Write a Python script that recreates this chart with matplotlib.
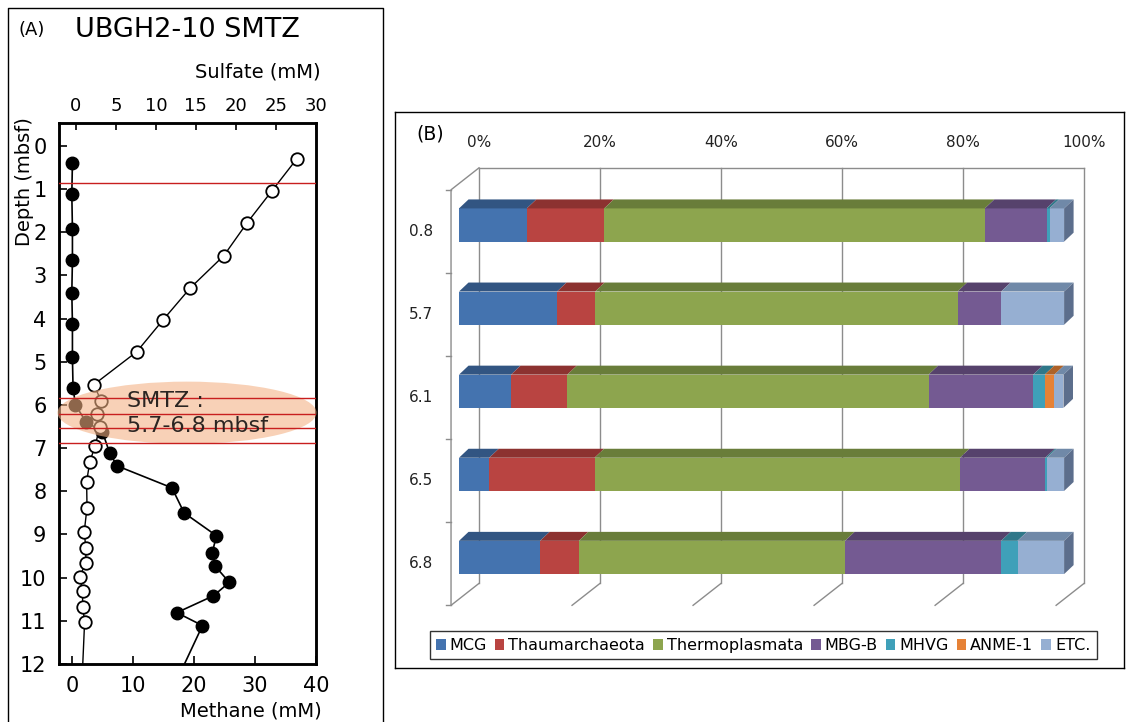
import numpy as np
import matplotlib.pyplot as plt
import matplotlib.transforms as mtransforms
from matplotlib.patches import Ellipse, Polygon, Patch
from matplotlib.lines import Line2D

# ---- panel A data ----
depth_ch4 = [0.39, 1.11, 1.93, 2.64, 3.40, 4.12, 4.90, 5.60, 6.00, 6.39, 6.62, 7.11,
             7.41, 7.92, 8.50, 9.03, 9.42, 9.72, 10.11, 10.42, 10.81, 11.11, 12.5]
methane = [0.1, 0.0, 0.1, 0.1, 0.0, 0.1, 0.1, 0.2, 0.6, 2.3, 5.0, 6.2,
           7.4, 16.4, 18.4, 23.7, 23.0, 23.4, 25.8, 23.2, 17.2, 21.4, 16.8]

depth_so4 = [0.30, 1.04, 1.78, 2.54, 3.29, 4.03, 4.77, 5.53, 5.92, 6.20, 6.50, 6.96,
             7.31, 7.78, 8.38, 8.94, 9.31, 9.65, 9.98, 10.32, 10.67, 11.02, 12.5]
sulfate = [27.6, 24.5, 21.4, 18.5, 14.3, 10.9, 7.6, 2.25, 3.2, 2.6, 3.0, 2.4,
           1.75, 1.35, 1.4, 1.05, 1.25, 1.25, 0.5, 0.85, 0.85, 1.1, 0.75]

sample_lines = [0.86, 5.83, 6.22, 6.53, 6.88]

# ---- panel B data (% of archaeal community) ----
samples = ['0.8', '5.7', '6.1', '6.5', '6.8']
groups = ['MCG', 'Thaumarchaeota', 'Thermoplasmata', 'MBG-B', 'MHVG', 'ANME-1', 'ETC.']
mcg = [11.2, 16.2, 8.6, 5.0, 13.4]
thaum = [12.8, 6.3, 9.3, 17.4, 6.4]
thermo = [62.9, 59.9, 59.7, 60.4, 44.0]
mbgb = [10.2, 7.2, 17.3, 14.1, 25.8]
mhvg = [0.5, 0.0, 1.9, 0.3, 2.7]
anme1 = [0.0, 0.0, 1.6, 0.0, 0.0]
etc = [2.4, 10.4, 1.5, 2.8, 7.7]
pct_ticks = [0, 20, 40, 60, 80, 100]

front_colors = ['#4473AF', '#B94441', '#8DA54E', '#745A92', '#3FA0B9', '#E68237', '#96AFD2']
top_colors = ['#325582', '#8C3230', '#697D3A', '#56426C', '#2F7789', '#AD6229', '#7089A8']
side_color = '#5C6E8C'

W, H = 1126, 722
fig = plt.figure(figsize=(W / 100, H / 100), dpi=100)


def fx(px):
    return px / W


def fy(py):
    return 1 - py / H


# ================= panel A =================
fig.add_artist(Line2D([fx(8), fx(8), fx(383), fx(383)], [-0.05, fy(8), fy(8), -0.05],
                      transform=fig.transFigure, color='black', lw=1))
fig.text(fx(32), fy(30), '(A)', fontsize=13, ha='center', va='center')
fig.text(fx(187), fy(30), 'UBGH2-10 SMTZ', fontsize=19.5, ha='center', va='center')

ax = fig.add_axes([fx(59), fy(664), (316 - 59) / W, (664 - 123) / H])
ax.plot(methane, depth_ch4, '-o', color='black', mfc='black', mec='black',
        ms=9, lw=1.2, zorder=3)
ax.set_xlim(-2.1, 40)
ax.set_ylim(12, -0.53)
ax.set_xticks([0, 10, 20, 30, 40])
ax.set_yticks(range(13))
ax.tick_params(axis='x', direction='in', length=6, width=1.2, labelsize=15, pad=9, top=False)
ax.tick_params(axis='y', direction='in', length=6, width=1.2, labelsize=15, pad=9, right=False)
for s in ax.spines.values():
    s.set_linewidth(1.8)

ax2 = ax.twiny()
ax2.plot(sulfate, depth_so4, '-o', color='black', mfc='white', mec='black',
         mew=1.3, ms=9, lw=1, zorder=3)
ax2.set_xlim(-2.1, 30)
ax2.set_xticks(range(0, 31, 5))
ax2.tick_params(axis='x', direction='in', length=5, width=1.2, labelsize=13, pad=6)
for s in ax2.spines.values():
    s.set_linewidth(1.8)

trans = mtransforms.blended_transform_factory(ax2.transAxes, ax2.transData)
ax2.add_patch(Ellipse((0.498, 6.18), 1.008, 1.44, transform=trans, fc='#F4B183',
                      alpha=0.58, ec='none', zorder=4, clip_on=False))
for d in sample_lines:
    ax2.axhline(d, color='#C81E1E', lw=1, zorder=5)
ax2.text(0.265, 6.2, 'SMTZ :\n5.7-6.8 mbsf', transform=trans, fontsize=16,
         ha='left', va='center', linespacing=1.35, color='#2b2522', zorder=6)

fig.text(fx(258), fy(72), 'Sulfate (mM)', fontsize=14, ha='center', va='center')
fig.text(fx(251), fy(711), 'Methane (mM)', fontsize=14, ha='center', va='center')
fig.text(fx(25), fy(182), 'Depth (mbsf)', fontsize=14, ha='center', va='center', rotation=90)

# ================= panel B (3-D look stacked bars) =================
axB = fig.add_axes([fx(395), fy(668), (1124 - 395) / W, (668 - 112) / H])
axB.set_xlim(-10.58, 109.9)
axB.set_ylim(5.33, -1.36)
axB.set_xticks([])
axB.set_yticks([])
for s in axB.spines.values():
    s.set_linewidth(1)
    s.set_color('black')
axB.text(0.03, 0.96, '(B)', transform=axB.transAxes, fontsize=13.5, ha='left', va='center')

y = np.arange(len(samples))
bar_h = 0.4
bdx, bdy = 1.57, -0.108        # bar depth offset
wdx, wdy = 3.3, -0.188         # back wall relative to bar front
fdx, fdy = -1.32, 0.076        # front plane relative to bar front
top, bot = -0.5, len(samples) - 0.5
grid_c = '#8C8C8C'

# back wall, floor and left wall
for g in pct_ticks:
    axB.plot([g + wdx, g + wdx], [top + wdy, bot + wdy], color=grid_c, lw=1, zorder=1)
    axB.plot([g + wdx, g + fdx], [bot + wdy, bot + fdy], color=grid_c, lw=1, zorder=1)
    axB.text(g + wdx, -0.987, f'{g}%', fontsize=11, ha='center', va='center', color='#222222')
axB.plot([pct_ticks[0] + wdx, pct_ticks[-1] + wdx], [top + wdy, top + wdy], color=grid_c, lw=1, zorder=1)
axB.plot([wdx, fdx, fdx], [top + wdy, top + fdy, bot + fdy], color=grid_c, lw=1, zorder=1)
for k in range(len(samples) + 1):
    yy = k - 0.5 + fdy
    axB.plot([fdx, fdx - 0.85], [yy, yy], color=grid_c, lw=1, zorder=1)
for i, lab in enumerate(samples):
    axB.text(-6.3, i + fdy, lab, fontsize=11, ha='center', va='center', color='#222222')

series = [mcg, thaum, thermo, mbgb, mhvg, anme1, etc]
left = np.zeros(len(samples))
for vals, fc, tc in zip(series, front_colors, top_colors):
    vals = np.array(vals)
    axB.barh(y, vals, left=left, height=bar_h, color=fc, edgecolor='none', zorder=3)
    for yi, l, w in zip(y, left, vals):
        if w <= 0:
            continue
        yt = yi - bar_h / 2
        axB.add_patch(Polygon([(l, yt), (l + w, yt), (l + w + bdx, yt + bdy), (l + bdx, yt + bdy)],
                              closed=True, fc=tc, ec='none', zorder=3))
    left = left + vals
for yi, l in zip(y, left):
    yt, yb = yi - bar_h / 2, yi + bar_h / 2
    axB.add_patch(Polygon([(l, yt), (l, yb), (l + bdx, yb + bdy), (l + bdx, yt + bdy)],
                          closed=True, fc=side_color, ec='none', zorder=3))

handles = [Patch(fc=c, ec='none', label=n) for n, c in zip(groups, front_colors)]
leg = axB.legend(handles=handles, loc='lower center', bbox_to_anchor=(0.505, 0.016),
                 ncol=7, fontsize=11.5, handlelength=0.6, handleheight=0.7,
                 handletextpad=0.25, columnspacing=0.5, borderaxespad=0, fancybox=False,
                 edgecolor='black', borderpad=0.4)
leg.get_frame().set_linewidth(1)

fig.savefig('out.png', dpi=100)
